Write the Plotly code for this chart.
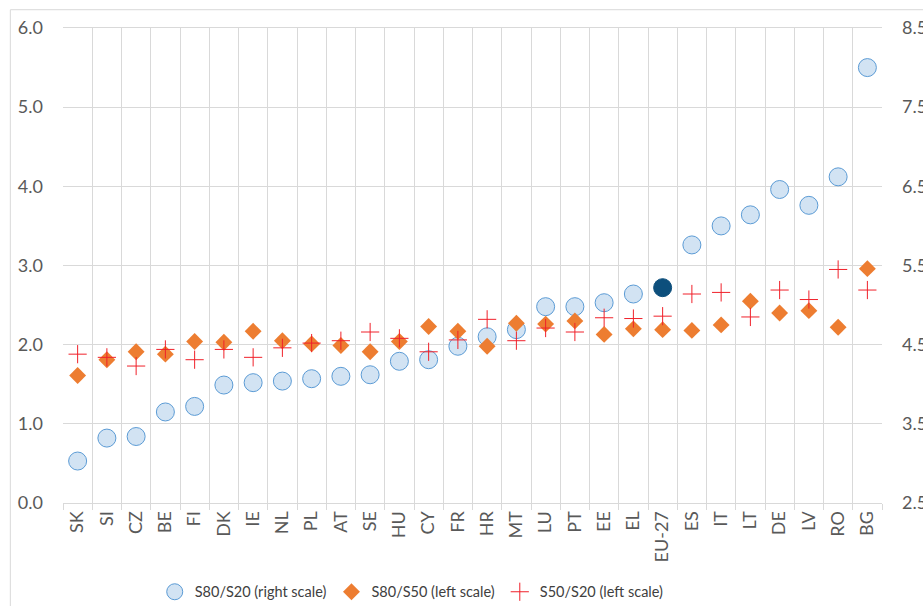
import plotly.graph_objects as go

countries = ["SK", "SI", "CZ", "BE", "FI", "DK", "IE", "NL", "PL", "AT", "SE", "HU", "CY", "FR",
             "HR", "MT", "LU", "PT", "EE", "EL", "EU-27", "ES", "IT", "LT", "DE", "LV", "RO", "BG"]

s80_s20 = [3.03, 3.32, 3.34, 3.65, 3.72, 3.99, 4.02, 4.04, 4.07, 4.10, 4.12, 4.29, 4.31, 4.48,
           4.60, 4.69, 4.98, 4.98, 5.03, 5.14, 5.22, 5.76, 6.00, 6.14, 6.46, 6.26, 6.62, 8.00]

s80_s50 = [1.61, 1.81, 1.91, 1.88, 2.04, 2.03, 2.17, 2.05, 2.01, 1.99, 1.91, 2.04, 2.23, 2.17,
           1.98, 2.27, 2.26, 2.30, 2.13, 2.20, 2.19, 2.18, 2.25, 2.55, 2.40, 2.43, 2.22, 2.96]

s50_s20 = [1.88, 1.84, 1.73, 1.94, 1.81, 1.94, 1.84, 1.96, 2.02, 2.05, 2.16, 2.08, 1.91, 2.06,
           2.32, 2.05, 2.21, 2.16, 2.34, 2.33, 2.36, 2.64, 2.66, 2.35, 2.69, 2.57, 2.95, 2.69]

left_ticks = [0, 1, 2, 3, 4, 5, 6]
right_ticks = [2.5, 3.5, 4.5, 5.5, 6.5, 7.5, 8.5]

FONT = "Lato"
GRID = "#d9d9d9"
TICKC = "#595959"

light = "#d2e3f3"
dark = "#0d4f7c"
circle_fill = [dark if c == "EU-27" else light for c in countries]
circle_line = [dark if c == "EU-27" else "#5b9bd5" for c in countries]

fig = go.Figure()

fig.add_trace(go.Scatter(
    x=countries, y=s80_s20, mode="markers", name="S80/S20 (right scale)",
    yaxis="y",
    marker=dict(symbol="circle", size=18, color=circle_fill,
                line=dict(color=circle_line, width=1)),
))
fig.add_trace(go.Scatter(
    x=countries, y=s80_s50, mode="markers", name="S80/S50 (left scale)",
    yaxis="y2",
    marker=dict(symbol="diamond", size=13, color="#ed7d31", line=dict(width=0)),
))
fig.add_trace(go.Scatter(
    x=countries, y=s50_s20, mode="markers", name="S50/S20 (left scale)",
    yaxis="y2",
    marker=dict(symbol="cross-thin", size=13, color="#f0202a",
                line=dict(color="#f0202a", width=1)),
))

fig.update_layout(
    width=923, height=606,
    margin=dict(l=63, r=41, t=28, b=103, autoexpand=False),
    paper_bgcolor="white", plot_bgcolor="white",
    font=dict(family=FONT, color=TICKC),
    showlegend=True,
    legend=dict(orientation="h", x=0.112, xanchor="left", y=-0.187, yanchor="middle",
                font=dict(family=FONT, size=14.5, color="#404040"),
                itemwidth=30, tracegroupgap=0, bgcolor="rgba(0,0,0,0)"),
    xaxis=dict(type="category", categoryorder="array", categoryarray=countries,
               range=[-0.5, len(countries) - 0.5], automargin=False,
               tickson="boundaries", showgrid=True, gridcolor=GRID, gridwidth=1,
               ticks="outside", ticklen=6, tickcolor=GRID,
               showline=True, linecolor=GRID, mirror=True,
               tickangle=-90, tickfont=dict(size=18, color=TICKC), zeroline=False),
    yaxis=dict(side="right", range=[2.5, 8.5], tickvals=right_ticks,
               ticktext=[f"{v:.1f}" for v in right_ticks], automargin=False,
               showgrid=False, zeroline=False, showline=False,
               tickfont=dict(size=18, color=TICKC), ticks="", ticklabelstandoff=19),
    yaxis2=dict(side="left", overlaying="y", range=[0, 6], tickvals=left_ticks,
                ticktext=[f"{v:.1f}" for v in left_ticks], automargin=False,
                showgrid=True, gridcolor=GRID, gridwidth=1, zeroline=False,
                showline=False, tickfont=dict(size=18, color=TICKC), ticks="",
                ticklabelstandoff=19),
    shapes=[dict(type="rect", xref="paper", yref="paper",
                 x0=-0.0643, x1=1.07, y0=-0.25, y1=1.0385,
                 line=dict(color=GRID, width=1), fillcolor="rgba(0,0,0,0)", layer="below")],
)

fig.write_html(
    "out.html",
    config={"displayModeBar": False},
    post_script="document.body.style.margin='0';document.body.style.overflow='hidden';",
)
